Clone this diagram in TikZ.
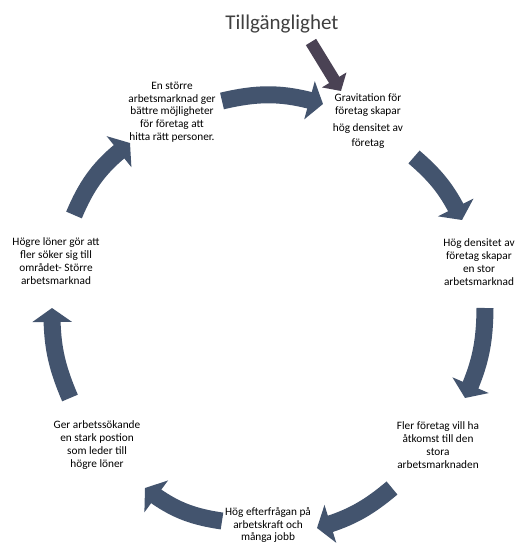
\documentclass[tikz,border=0pt]{standalone}
\usepackage{fontspec}
\setmainfont{Carlito}
\usetikzlibrary{arrows.meta}
\usetikzlibrary{bending}
\definecolor{ringblue}{RGB}{67,84,110}
\definecolor{feedgrey}{RGB}{74,66,84}
\definecolor{titlegrey}{RGB}{64,64,64}
\tikzset{ringarrow/.style = {draw=ringblue, line width=17pt,
                             -{Triangle[width=39pt,length=14pt]}}}
\tikzset{feedarrow/.style = {draw=feedgrey, line width=12pt,
                             -{Triangle[width=28pt,length=13pt]}}}
\tikzset{steptext/.style = {align=center, inner sep=0pt,
                            font=\fontsize{11.3}{12.8}\selectfont}}

\begin{document}
\begin{tikzpicture}[x=1pt, y=-1pt]
			\useasboundingbox [fill=white] (0,0) rectangle (517,544);
			\node [font=\fontsize{21}{24}\selectfont, text=titlegrey, inner sep=0pt] (title) at (282,24) {Tillgänglighet};
			\node [steptext] (t1) at (368,121) {Gravitation för\\företag skapar\\[4pt]hög densitet av\\[2pt]företag};
			\node [steptext] (t2) at (479,262) {Hög densitet av\\företag skapar\\en stor\\arbetsmarknad};
			\node [steptext] (t3) at (438,445) {Fler företag vill ha\\åtkomst till den\\stora\\arbetsmarknaden};
			\node [steptext] (t4) at (268,525) {Hög efterfrågan på\\arbetskraft och\\många jobb};
			\node [steptext] (t5) at (97,445) {Ger arbetssökande\\en stark postion\\som leder till\\högre löner};
			\node [steptext] (t6) at (56,261) {Högre löner gör att\\fler söker sig till\\området- Större\\arbetsmarknad};
			\node [steptext] (t7) at (172,112) {En större\\arbetsmarknad ger\\bättre möjligheter\\för företag att\\hitta rätt personer.};
			\coordinate (0) at (311,42);
			\coordinate (1) at (341,91);
			\coordinate (2) at (222,101);
			\coordinate (3) at (323,104);
			\coordinate (4) at (414,157);
			\coordinate (5) at (462,220);
			\coordinate (6) at (485,308);
			\coordinate (7) at (465,398);
			\coordinate (8) at (392,488);
			\coordinate (9) at (317,528);
			\coordinate (10) at (222,521);
			\coordinate (11) at (145,488);
			\coordinate (12) at (70,398);
			\coordinate (13) at (52,308);
			\coordinate (14) at (74,215);
			\coordinate (15) at (130,143);
			\draw [feedarrow] (0) to (1);
			\draw [ringarrow] (2) to [bend left=15] (3);
			\draw [ringarrow] (4) to [bend left=12] (5);
			\draw [ringarrow] (6) to [bend left=12] (7);
			\draw [ringarrow] (8) to [bend left=12] (9);
			\draw [ringarrow] (10) to [bend left=15] (11);
			\draw [ringarrow] (12) to [bend left=12] (13);
			\draw [ringarrow] (14) to [bend left=15] (15);
\end{tikzpicture}
\end{document}
